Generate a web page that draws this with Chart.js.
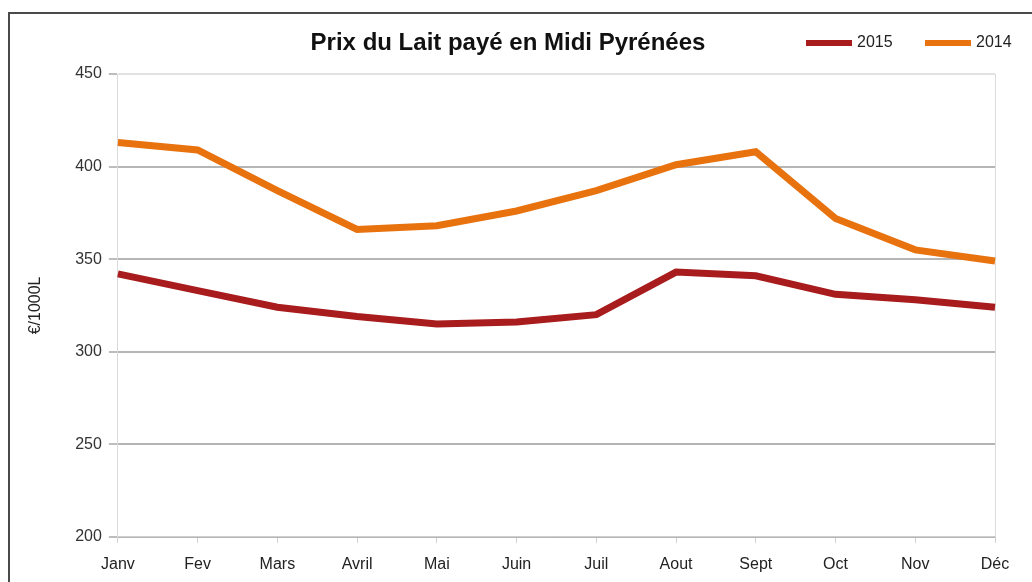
<!DOCTYPE html>
<html>
<head>
<meta charset="utf-8">
<script src="https://cdn.jsdelivr.net/npm/chart.js@4/dist/chart.umd.min.js"></script>
<style>
  html, body { margin: 0; padding: 0; background: #fff; }
  #wrap { position: relative; width: 1032px; height: 582px; }
</style>
</head>
<body>
<div id="wrap"><canvas id="chart" width="1032" height="582"></canvas></div>
<script>
// Prix du lait payé en Midi Pyrénées (€/1000L)
const months = ["Janv", "Fev", "Mars", "Avril", "Mai", "Juin", "Juil", "Aout", "Sept", "Oct", "Nov", "Déc"];
const prix2015 = [342, 333, 324, 319, 315, 316, 320, 343, 341, 331, 328, 324];
const prix2014 = [413, 409, 387, 366, 368, 376, 387, 401, 408, 372, 355, 349];
const yTicks = [200, 250, 300, 350, 400, 450];

const titleText = "Prix du Lait payé en Midi Pyrénées";
const FONT = "'Liberation Sans', Arial, sans-serif";

// white background, cropped frame (top + left), title and legend on one row
const framePlugin = {
  id: "frame",
  beforeDraw(chart) {
    const c = chart.ctx;
    c.save();
    c.fillStyle = "#fff";
    c.fillRect(0, 0, chart.width, chart.height);
    c.strokeStyle = "#4a4a4a";
    c.lineWidth = 2;
    c.beginPath();
    c.moveTo(9, chart.height);
    c.lineTo(9, 13);
    c.lineTo(chart.width, 13);
    c.stroke();
    c.restore();
  },
  afterDraw(chart) {
    const c = chart.ctx;
    c.save();
    c.font = "bold 24px " + FONT;
    c.fillStyle = "#111";
    c.textAlign = "center";
    c.textBaseline = "middle";
    c.fillText(titleText, 508, 43);

    // legend: line swatch + label for each dataset
    c.font = "16px " + FONT;
    c.textAlign = "left";
    const startX = [806, 925];
    chart.data.datasets.forEach((ds, i) => {
      const x = startX[i];
      c.fillStyle = ds.borderColor;
      c.fillRect(x, 40, 46, 6);
      c.fillStyle = "#222";
      c.fillText(ds.label, x + 51, 43);
    });
    c.restore();
  }
};

new Chart(document.getElementById("chart").getContext("2d"), {
  type: "line",
  data: {
    labels: months,
    datasets: [
      {
        label: "2015",
        data: prix2015,
        borderColor: "#a81c1e",
        backgroundColor: "#a81c1e",
        borderWidth: 7,
        pointRadius: 0,
        tension: 0
      },
      {
        label: "2014",
        data: prix2014,
        borderColor: "#e8720e",
        backgroundColor: "#e8720e",
        borderWidth: 7,
        pointRadius: 0,
        tension: 0
      }
    ]
  },
  options: {
    responsive: false,
    animation: false,
    layout: { padding: { left: 26, right: 37, top: 74, bottom: -4 } },
    plugins: {
      legend: { display: false },
      title: { display: false },
      tooltip: { enabled: false }
    },
    scales: {
      x: {
        offset: false,
        grid: {
          drawOnChartArea: true,
          color: (ctx) => ctx.index === months.length - 1 ? "#dcdcdc" : "transparent",
          tickColor: "#cfcfcf",
          tickLength: 6
        },
        border: { color: "#cfcfcf" },
        ticks: {
          color: "#222",
          padding: 12,
          maxRotation: 0,
          autoSkip: false,
          font: { family: FONT, size: 16 }
        }
      },
      y: {
        min: 200,
        max: 450,
        afterBuildTicks: (axis) => { axis.ticks = yTicks.map(v => ({ value: v })); },
        grid: {
          color: (ctx) => ctx.tick && ctx.tick.value === 450 ? "#e2e2e2" : "#b5b5b5",
          lineWidth: 2,
          tickColor: "#bdbdbd",
          tickLength: 9
        },
        border: { color: "#dadada" },
        ticks: {
          color: "#333",
          padding: 7,
          font: { family: FONT, size: 16 }
        },
        title: {
          display: true,
          text: "€/1000L",
          color: "#222",
          padding: { top: 0, bottom: 23 },
          font: { family: FONT, size: 16 }
        }
      }
    }
  },
  plugins: [framePlugin]
});
</script>
</body>
</html>
